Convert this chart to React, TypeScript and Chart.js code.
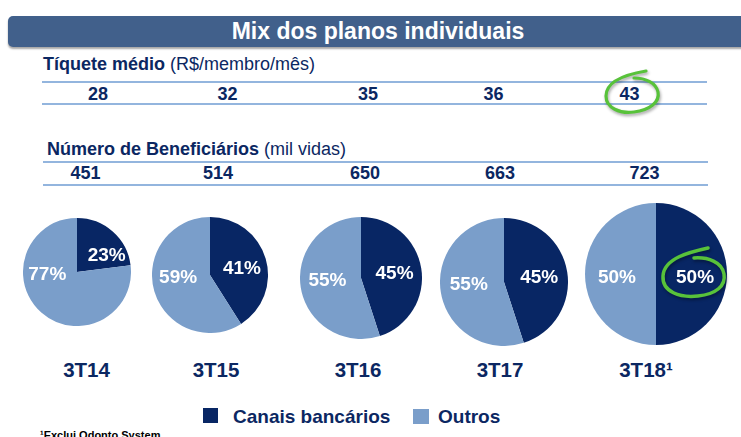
import React, { useEffect, useRef } from 'react';
import { Chart, registerables } from 'chart.js';

Chart.register(...registerables);

// ---- data ----
const quarters = ['3T14', '3T15', '3T16', '3T17', '3T18¹'];
const ticketMedio = [28, 32, 35, 36, 43];
const beneficiarios = [451, 514, 650, 663, 723];
const canaisBancarios = [23, 41, 45, 45, 50];
const outros = [77, 59, 55, 55, 50];
const seriesNames = ['Canais bancários', 'Outros'];

// ---- layout ----
const ticketX = [98, 227.5, 368, 493.5, 629.5];
const benefX = [85.5, 218, 365, 500, 644.5];
const quarterX = [86.5, 216, 358, 500, 646];
const pieCX = [77, 210, 361, 504, 656];
const pieCY = [272, 274.5, 278, 282, 274];
const pieR = [54, 58, 61, 64, 71];

const FONT = '"Liberation Sans", Arial, Helvetica, sans-serif';
const NAVY = '#0b2762';
const DARK = '#082664';
const LIGHT = '#7a9eca';
const RULE = '#93b5de';
const GREEN = '#58c23a';

Chart.defaults.font.family = FONT;

type TP = {
  x: number;
  y: number;
  fs: number;
  bold?: boolean;
  color?: string;
  align?: 'center' | 'left';
  baseline?: boolean;
  children?: React.ReactNode;
};

function T({ x, y, fs, bold = true, color = NAVY, align = 'center', baseline = false, children }: TP) {
  const top = baseline ? y - 0.8465 * fs : y - 0.49 * fs;
  const style: React.CSSProperties = {
    position: 'absolute',
    top,
    left: x,
    fontSize: fs,
    lineHeight: `${fs}px`,
    fontFamily: FONT,
    fontWeight: bold ? 700 : 400,
    color,
    whiteSpace: 'nowrap',
  };
  if (align === 'center') style.transform = 'translateX(-50%)';
  return <div style={style}>{children}</div>;
}

function Rule({ x1, x2, y }: { x1: number; x2: number; y: number }) {
  return (
    <div
      style={{ position: 'absolute', left: x1, top: y - 1, width: x2 - x1, height: 2, background: RULE }}
    />
  );
}

const pieLabels = {
  id: 'pieLabels',
  afterDatasetsDraw(chart: any) {
    const ctx = chart.ctx as CanvasRenderingContext2D;
    const meta = chart.getDatasetMeta(0);
    const data = chart.data.datasets[0].data as number[];
    const total = data.reduce((a, b) => a + b, 0);
    meta.data.forEach((arc: any, i: number) => {
      const p = arc.getProps(['x', 'y', 'startAngle', 'endAngle', 'outerRadius'], true);
      const mid = (p.startAngle + p.endAngle) / 2;
      const frac = data[i] / total;
      const lx = p.x + Math.sign(Math.cos(mid)) * 0.55 * p.outerRadius;
      const ly = frac < 0.5 ? p.y + 0.4 * p.outerRadius * Math.sin(mid) : p.y + 0.05 * p.outerRadius;
      ctx.save();
      ctx.fillStyle = '#ffffff';
      ctx.font = `bold 19px ${FONT}`;
      ctx.textAlign = 'center';
      ctx.textBaseline = 'middle';
      ctx.fillText(`${data[i]}%`, lx, ly);
      ctx.restore();
    });
  },
};

export default function App() {
  const canvases = useRef<(HTMLCanvasElement | null)[]>([]);

  useEffect(() => {
    const charts: Chart[] = [];
    quarters.forEach((_, i) => {
      const cv = canvases.current[i];
      if (!cv) return;
      charts.push(
        new Chart(cv, {
          type: 'pie',
          data: {
            labels: seriesNames,
            datasets: [
              {
                data: [canaisBancarios[i], outros[i]],
                backgroundColor: [DARK, LIGHT],
                borderWidth: 0,
                hoverOffset: 0,
                offset: 0,
              } as any,
            ],
          },
          options: {
            animation: false,
            responsive: false,
            maintainAspectRatio: false,
            events: [],
            layout: { padding: 0 },
            plugins: { legend: { display: false }, tooltip: { enabled: false } },
          },
          plugins: [pieLabels as any],
        })
      );
    });
    return () => charts.forEach((c) => c.destroy());
  }, []);

  return (
    <div
      style={{
        position: 'fixed',
        left: 0,
        top: 0,
        width: 741,
        height: 437,
        overflow: 'hidden',
        background: '#ffffff',
        fontFamily: FONT,
      }}
    >
      {/* title bar */}
      <div
        style={{
          position: 'absolute',
          left: 8,
          top: 16,
          width: 760,
          height: 31,
          background: '#41608b',
          borderRadius: '5px 0 0 5px',
          boxShadow: '0 2px 2px rgba(0,0,0,0.35)',
        }}
      />
      <T x={378} y={31.7} fs={23} color="#ffffff">
        Mix dos planos individuais
      </T>

      {/* Tíquete médio */}
      <T x={43} y={70} fs={18} align="left" baseline>
        Tíquete médio<span style={{ fontWeight: 400 }}> (R$/membro/mês)</span>
      </T>
      <Rule x1={42} x2={707} y={81.7} />
      <Rule x1={42} x2={707} y={104} />
      {ticketMedio.map((v, i) => (
        <T key={'t' + i} x={ticketX[i]} y={94} fs={18}>
          {v}
        </T>
      ))}

      {/* Beneficiários */}
      <T x={47} y={155} fs={18} align="left" baseline>
        Número de Beneficiários<span style={{ fontWeight: 400 }}> (mil vidas)</span>
      </T>
      <Rule x1={43} x2={708} y={161.7} />
      <Rule x1={43} x2={708} y={185} />
      {beneficiarios.map((v, i) => (
        <T key={'b' + i} x={benefX[i]} y={172.5} fs={18}>
          {v}
        </T>
      ))}

      {/* pies */}
      {quarters.map((_, i) => (
        <canvas
          key={'c' + i}
          ref={(el) => {
            canvases.current[i] = el;
          }}
          width={pieR[i] * 2}
          height={pieR[i] * 2}
          style={{
            position: 'absolute',
            left: pieCX[i] - pieR[i],
            top: pieCY[i] - pieR[i],
            width: pieR[i] * 2,
            height: pieR[i] * 2,
          }}
        />
      ))}

      {/* quarter labels */}
      {quarters.map((q, i) => (
        <T key={'q' + i} x={quarterX[i]} y={370} fs={20.5}>
          {q}
        </T>
      ))}

      {/* legend */}
      <div style={{ position: 'absolute', left: 203, top: 408, width: 15, height: 15, background: DARK }} />
      <T x={233} y={416} fs={19} align="left">
        {seriesNames[0]}
      </T>
      <div style={{ position: 'absolute', left: 413, top: 409, width: 16, height: 15, background: LIGHT }} />
      <T x={438} y={416} fs={19} align="left">
        {seriesNames[1]}
      </T>

      {/* footnote */}
      <T x={40} y={439} fs={11} align="left" baseline color="#000000">
        ¹Exclui Odonto System
      </T>

      {/* green highlight loops */}
      <svg
        width={741}
        height={437}
        style={{
          position: 'absolute',
          left: 0,
          top: 0,
          pointerEvents: 'none',
          filter: 'drop-shadow(1px 2px 1.5px rgba(0,0,0,0.35))',
        }}
      >
        <path
          d="M 646 71 C 628 74, 606 80, 606 96 C 606 108, 620 114, 634 112 C 650 110, 660 102, 658 92 C 656 83, 646 78, 634 78"
          fill="none"
          stroke={GREEN}
          strokeWidth={3.2}
          strokeLinecap="round"
        />
        <path
          d="M 708 248 C 690 252, 664 258, 663 276 C 662 292, 680 298, 698 296 C 716 294, 726 286, 724 274 C 722 262, 708 257, 694 258"
          fill="none"
          stroke={GREEN}
          strokeWidth={3.5}
          strokeLinecap="round"
        />
      </svg>
    </div>
  );
}
